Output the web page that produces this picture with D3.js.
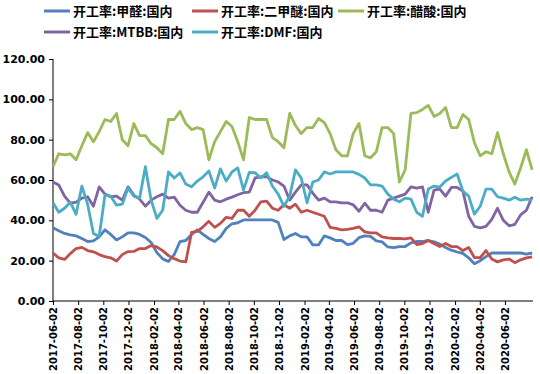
<!DOCTYPE html>
<html>
<head>
<meta charset="utf-8">
<script src="https://cdn.jsdelivr.net/npm/d3@7"></script>
<style>
  body { margin: 0; background: #fff; }
  svg { display: block; }
  .axis text { font-family: "DejaVu Sans", sans-serif; font-weight: bold; fill: #000; }
  .legend text { font-family: "Noto Sans CJK SC", sans-serif; font-weight: bold; font-size: 13px; fill: #000; }
</style>
</head>
<body>
<svg width="540" height="374"></svg>
<script>
// biweekly readings starting 2017-06-02
let startDate = "2017-06-02";
let stepDays = 14;

let seriesNames = ["开工率:甲醛:国内", "开工率:二甲醚:国内", "开工率:醋酸:国内", "开工率:MTBB:国内", "开工率:DMF:国内"];
let seriesColors = ["#4f81bd", "#c0504d", "#9bbb59", "#8064a2", "#4bacc6"];

let methanal = [36.3, 34.8, 33.5, 32.8, 32.3, 31, 29.5, 29.8, 31.8, 35.3, 33, 30.3, 31.8, 33.8, 33.8, 33, 31.5, 29, 24, 20.9,
    19.6, 23, 29.5, 30, 33, 35.3, 33, 31, 29.5, 31.8, 36, 38.3, 38.8, 40.2, 40.2, 40.2, 40.2, 40.2, 40.2, 39,
    30.5, 32.3, 33.5, 31.8, 31.8, 27.8, 27.8, 32.3, 31.3, 30, 30, 28, 28.6, 31.4, 32.3, 32, 29.8, 29.3, 26.8, 26.5,
    27, 27, 28.8, 29.5, 29.5, 30, 29.3, 28.2, 26.5, 25.2, 24.3, 23.6, 21.4, 18.5, 20, 22, 23.8, 23.8, 23.8, 23.8,
    23.8, 23.8, 23.3, 23.8];

let dme = [23.8, 21.4, 20.6, 23.5, 26, 26.6, 25, 24.4, 23, 22, 21.4, 19.8, 23, 24.5, 24.6, 26, 26, 27.5, 26.8, 25,
    22.5, 21, 19.8, 19.4, 34, 34.5, 36.8, 39.5, 36.5, 38.5, 41.5, 41, 45, 45, 42, 45, 49.2, 49.5, 46, 45,
    47.7, 46, 48, 44, 45, 44, 43, 42, 36.5, 36, 35.3, 35.5, 36, 36.8, 34.3, 33.8, 33.8, 31.8, 31.3, 31,
    31, 30.8, 31.3, 28, 28.5, 30, 28.5, 27, 28.5, 27, 27, 25, 26.5, 21.5, 21.5, 25, 20.8, 19.4, 20.4, 20.8,
    19, 20.4, 21.4, 21.9];

let aceticAcid = [66.6, 73, 72.5, 73, 70, 77, 83.5, 79, 84, 90, 89, 93, 80, 77, 88, 82, 82, 78, 76, 73,
    90, 90, 94, 88, 85, 86, 85, 70, 79, 84, 89, 86.5, 79, 70, 91, 90, 90, 90, 81, 79,
    76, 93, 87, 83, 86, 86, 90.5, 88.5, 83, 75, 72, 72, 83, 88, 72, 71, 74, 86, 86, 83,
    59, 65, 93, 93.4, 95, 97, 91.5, 93, 96, 86, 86, 92.5, 90, 78.5, 72, 74, 73, 83.5, 73, 64,
    58, 66, 75, 65];

let mtbe = [59, 57.5, 52, 48.5, 49, 51, 51.7, 47, 56.6, 53, 51.7, 52, 50, 56.6, 52.5, 50.5, 47, 50, 51.7, 53,
    51, 51.5, 47.5, 45, 44, 44, 49, 54, 50, 49.2, 50.5, 51.5, 52.7, 53.7, 54, 61, 61.6, 61.6, 60, 59,
    57, 50, 54, 57.6, 57.6, 53.5, 50, 51, 49.2, 49.2, 48.7, 48.7, 47.7, 44.5, 48.5, 45, 45, 44, 50, 51,
    52, 53, 56.6, 56, 56.6, 44, 55, 55.5, 52, 56.3, 56.3, 54.5, 42, 37, 36.3, 37, 40.5, 46, 40, 37.3,
    38, 42.7, 45, 51.7];

let dmf = [48.7, 44, 46, 49, 43, 57, 48, 33.5, 32, 52.5, 52, 47.5, 48, 56, 52, 51, 66.6, 50, 41, 45,
    64, 61, 63.5, 58, 56.6, 59.5, 61.6, 64.5, 56, 65.5, 59.5, 64, 66, 55, 63.8, 63.6, 61, 63.6, 57, 53,
    47, 52, 65, 61, 48.7, 59, 60, 64, 63, 64, 64, 64, 64, 62.8, 61, 57.6, 57.6, 57, 53, 50.5,
    49.2, 51, 50.5, 44, 42, 55.5, 57, 56.5, 59.5, 61.3, 63, 54.5, 52, 43, 47, 55.5, 55.5, 51.7, 51, 50,
    51.5, 50, 50.5, 50];

let yTicks = [0, 20, 40, 60, 80, 100, 120];
let xTickLabels = ["2017-06-02", "2017-08-02", "2017-10-02", "2017-12-02", "2018-02-02", "2018-04-02", "2018-06-02",
    "2018-08-02", "2018-10-02", "2018-12-02", "2019-02-02", "2019-04-02", "2019-06-02", "2019-08-02",
    "2019-10-02", "2019-12-02", "2020-02-02", "2020-04-02", "2020-06-02"];

function drawChart() {
    let svg = d3.select("svg");
    let parse = d3.timeParse("%Y-%m-%d");
    let fmt = d3.timeFormat("%Y-%m-%d");

    let left = 53, right = 533, top = 59, bottom = 301;
    let t0 = parse(startDate);
    let allSeries = [methanal, dme, aceticAcid, mtbe, dmf];
    let n = methanal.length;
    let dates = d3.range(n).map(i => d3.timeDay.offset(t0, i * stepDays));

    let x = d3.scaleTime()
        .domain([t0, d3.timeDay.offset(t0, (n - 1) * stepDays + 2)])
        .range([left, right]);
    let y = d3.scaleLinear()
        .domain([0, 120])
        .range([bottom, top]);

    // y axis
    let yAxis = svg.append("g")
        .attr("class", "axis")
        .attr("transform", "translate(" + left + ",0)")
        .call(d3.axisLeft(y).tickValues(yTicks).tickSize(4).tickPadding(4).tickFormat(d3.format(".2f")));
    yAxis.selectAll("text").style("font-size", "11px");
    yAxis.select(".domain").attr("d", "M0," + top + "V" + bottom);

    // x axis
    let xAxis = svg.append("g")
        .attr("class", "axis")
        .attr("transform", "translate(0," + bottom + ")")
        .call(d3.axisBottom(x).tickValues(xTickLabels.map(parse)).tickSize(4).tickFormat(fmt));
    xAxis.selectAll("text")
        .style("font-size", "10px")
        .attr("transform", "rotate(-90)")
        .attr("x", -6)
        .attr("y", 0)
        .attr("dy", "0.35em")
        .style("text-anchor", "end");
    xAxis.select(".domain").attr("d", "M" + left + ",0H" + right);
    svg.selectAll(".axis path, .axis line").attr("stroke", "#000");

    let line = d3.line()
        .x((d, i) => x(dates[i]))
        .y(d => y(d));

    svg.append("g").selectAll("path")
        .data(allSeries)
        .enter()
        .append("path")
        .attr("d", line)
        .attr("fill", "none")
        .attr("stroke", (d, i) => seriesColors[i])
        .attr("stroke-width", 2.8)
        .attr("stroke-linejoin", "round");

    // legend
    let legendPos = [[44, 11], [192, 11], [338, 11], [44, 32], [192, 32]];
    let legend = svg.append("g").attr("class", "legend");
    let items = legend.selectAll("g")
        .data(seriesNames)
        .enter()
        .append("g")
        .attr("transform", (d, i) => "translate(" + legendPos[i][0] + "," + legendPos[i][1] + ")");
    items.append("line")
        .attr("x1", 0).attr("x2", 26)
        .attr("stroke", (d, i) => seriesColors[i])
        .attr("stroke-width", 3);
    items.append("text")
        .attr("x", 29)
        .attr("dy", "0.35em")
        .text(d => d);
}

drawChart();
</script>
</body>
</html>
